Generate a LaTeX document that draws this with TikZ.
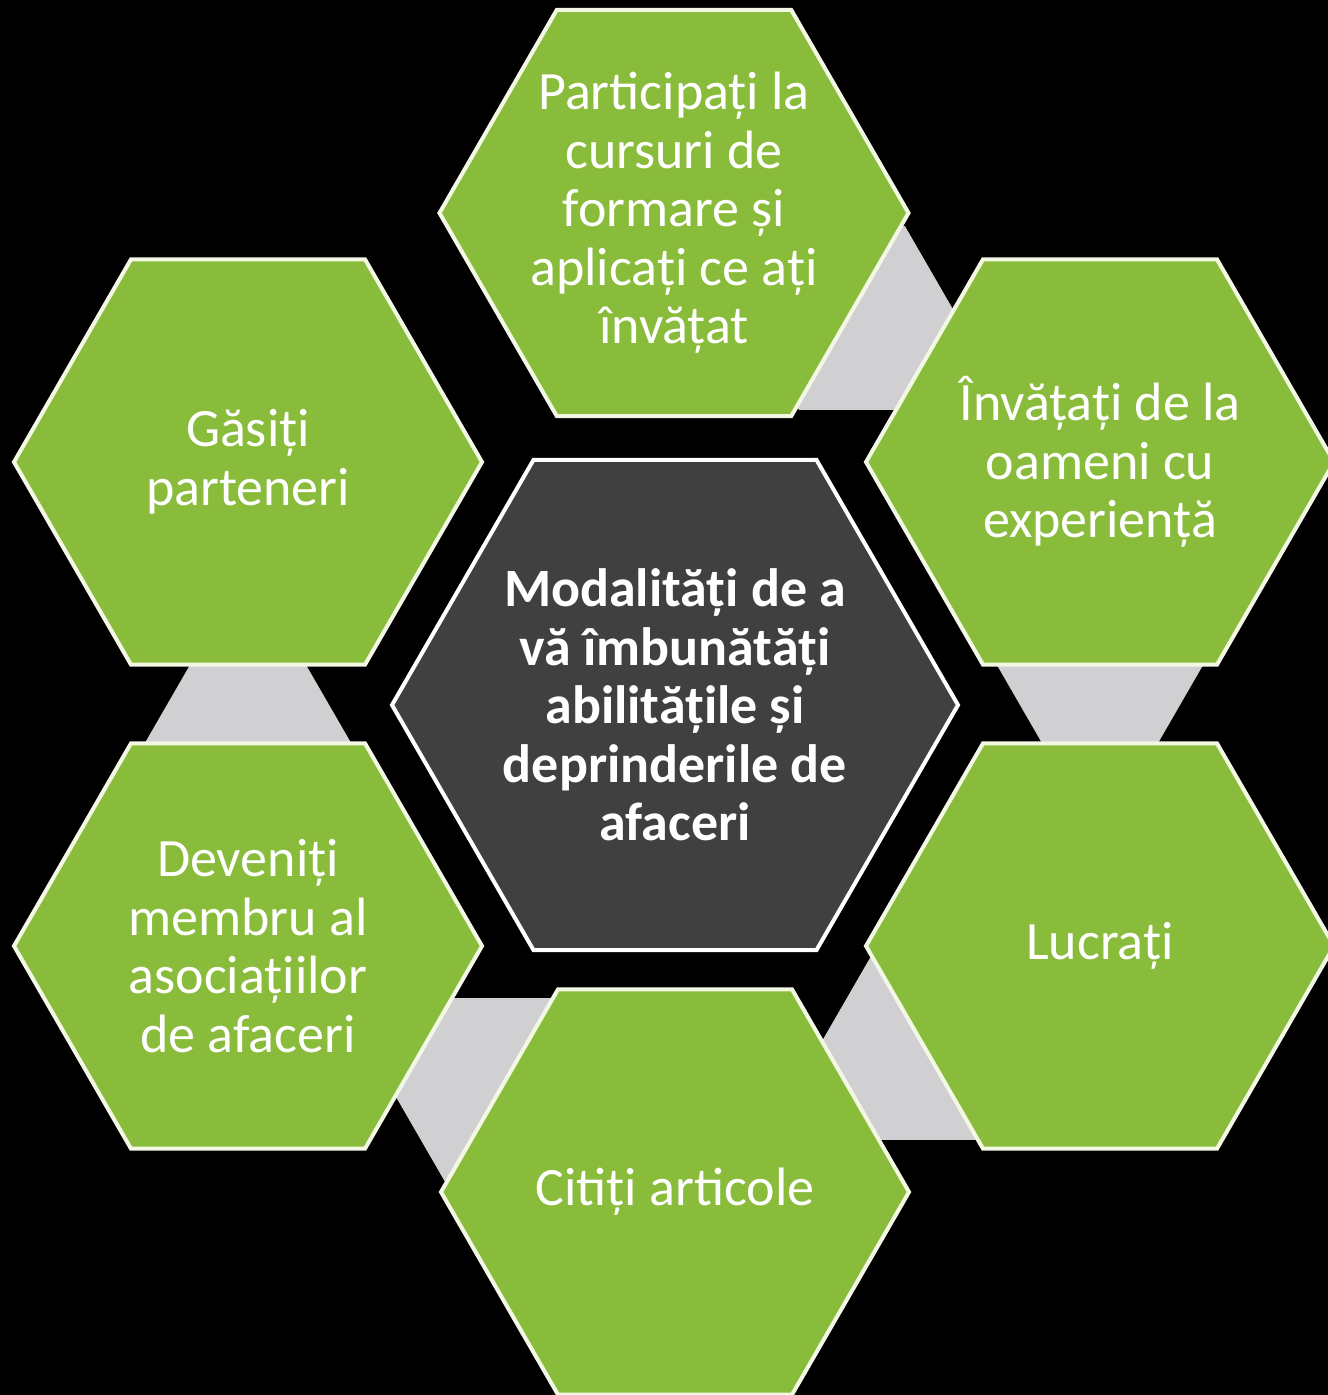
\documentclass[tikz,border=0pt]{standalone}
\usepackage{fontspec}
\setmainfont{Carlito}
\usetikzlibrary{shapes.geometric}
\definecolor{leafgreen}{RGB}{138,188,60}
\definecolor{rim}{RGB}{242,248,228}
\definecolor{hubgrey}{RGB}{64,64,64}
\definecolor{linkgrey}{RGB}{208,207,210}

\begin{document}
\begin{tikzpicture}[x=1pt,y=-1pt,
	hexa/.style={regular polygon,regular polygon sides=6,inner sep=0,outer sep=0,align=center,text=white,font=\fontsize{54}{58.5}\selectfont},
	leaf/.style={hexa,draw=rim,line width=4pt,fill=leafgreen,minimum size=468pt},
	hub/.style={hexa,draw=white,line width=4pt,fill=hubgrey,minimum size=566pt,font=\fontsize{54}{58.5}\selectfont\bfseries},
	link/.style={regular polygon,regular polygon sides=6,inner sep=0,outer sep=0,fill=linkgrey,minimum size=212pt}]
	\fill[black] (0,0) rectangle (1328,1395);
	\useasboundingbox (0,0) rectangle (1328,1395);
	% grey links behind the ring
	\node[link] (l1) at (852,318) {};
	\node[link] (l2) at (1100,660) {};
	\node[link] (l3) at (924,1048) {};
	\node[link] (l4) at (498,1090) {};
	\node[link] (l5) at (248,748) {};
	% ring
	\node[leaf] (curs) at (674,213) {Participați la\\cursuri de\\formare și\\aplicați ce ați\\învățat};
	\node[leaf] (invat) at (1100,462) {Învățați de la\\oameni cu\\experiență};
	\node[leaf] (lucr) at (1100,946) {Lucrați};
	\node[leaf] (citi) at (675,1192) {Citiți articole};
	\node[leaf] (memb) at (248,946) {Deveniți\\membru al\\asociațiilor\\de afaceri};
	\node[leaf] (part) at (248,462) {Găsiți\\parteneri};
	% middle
	\node[hub] (mod) at (675,705) {Modalități de a\\vă îmbunătăți\\abilitățile și\\deprinderile de\\afaceri};
\end{tikzpicture}
\end{document}
